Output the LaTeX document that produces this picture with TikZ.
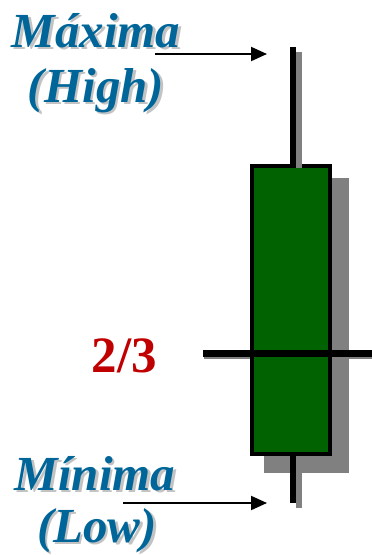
\documentclass[tikz,border=0pt]{standalone}
\usepackage{fontspec}
\setmainfont{Liberation Serif}
\usetikzlibrary{positioning, calc, arrows.meta, backgrounds}
\definecolor{labelBlue}{RGB}{0,102,153}
\definecolor{candleGreen}{RGB}{0,98,0}
\definecolor{shadowGray}{RGB}{128,128,128}
\definecolor{ratioRed}{RGB}{192,0,0}
\definecolor{softShadow}{RGB}{195,195,195}

% text with a soft drop shadow behind it
\newcommand{\shadowed}[1]{\makebox[0pt][l]{\kern2.5pt\raisebox{-2.5pt}{\textcolor{softShadow}{#1}}}#1}

\tikzset{
    pricelabel/.style={font=\fontsize{49}{49}\selectfont\bfseries\itshape, text=labelBlue, anchor=base, inner sep=0pt},
    pointer/.style={line width=2pt, -{Triangle[length=16pt,width=14pt]}},
    wick/.style={line width=6pt},
}

\begin{document}
\begin{tikzpicture}[x=1pt, y=-1pt]
    \useasboundingbox (0,0) rectangle (372,555);
    % labels
    \node[pricelabel] (maxLabel) at (96,47) {\shadowed{Máxima}};
    \node[pricelabel] (highLabel) at (96,102) {\shadowed{(High)}};
    \node[pricelabel] (minLabel) at (95,490) {\shadowed{Mínima}};
    \node[pricelabel] (lowLabel) at (97,542) {\shadowed{(Low)}};
    \node[font=\fontsize{51}{51}\selectfont\bfseries, text=ratioRed, anchor=base, inner sep=0pt] (ratio) at (124.5,372) {2/3};

    % candle body, wicks and shadows
    \node[draw, line width=4pt, fill=candleGreen, minimum width=78pt, minimum height=288.5pt, inner sep=0pt] (body) at (290.5,309.75) {};
    \coordinate (highTop) at (292.5,47);
    \coordinate (lowEnd) at (292.5,503);
    \begin{scope}[on background layer]
        \fill[shadowGray] ($(body.north west)+(14.5,14.5)$) rectangle ($(body.south east)+(17.5,17)$);
        \draw[shadowGray, wick] ($(highTop)+(6.5,5)$) -- ($(highTop |- body.north)+(6.5,5)$);
        \draw[shadowGray, wick] ($(lowEnd |- body.south)+(6.5,5)$) -- ($(lowEnd)+(6.5,5)$);
        \draw[shadowGray, line width=7pt] (204,355) -- (372,355);
    \end{scope}
    \draw[shadowGray, wick] ($(highTop |- body.north)+(6.5,0)$) -- ($(highTop |- body.north)+(6.5,4)$);
    \draw[wick] (highTop) -- (highTop |- body.north);
    \draw[wick] (lowEnd |- body.south) -- (lowEnd);

    % two-thirds mark
    \coordinate (markLeft) at (203,353);
    \coordinate (markRight) at (372,353);
    \draw[line width=7pt] (markLeft) -- (markRight);

    % pointers to high and low
    \coordinate (highFrom) at (155,54);
    \coordinate (highTo) at (267,54);
    \coordinate (lowFrom) at (123,503);
    \coordinate (lowTo) at (267,503);
    \draw[pointer] (highFrom) -- (highTo);
    \draw[pointer] (lowFrom) -- (lowTo);
\end{tikzpicture}
\end{document}
